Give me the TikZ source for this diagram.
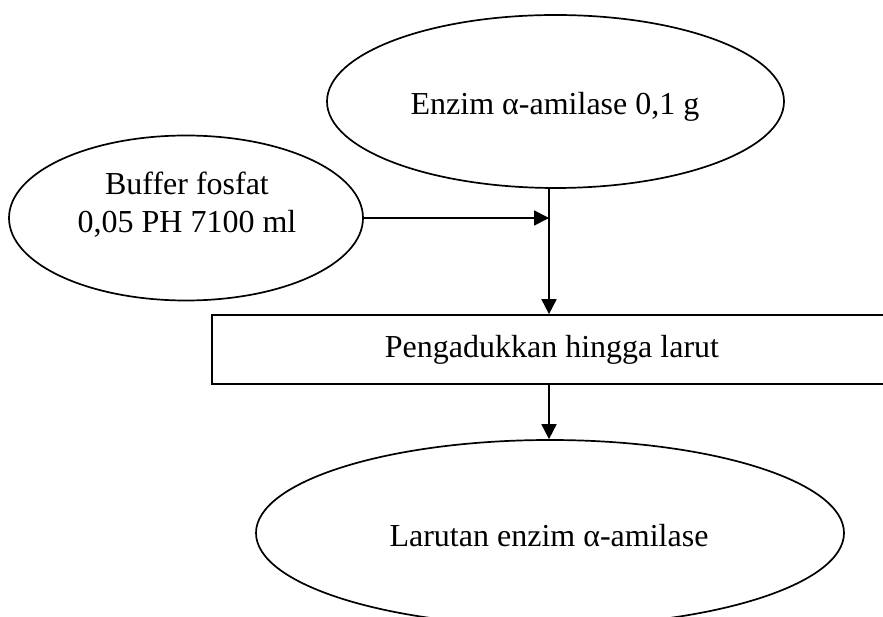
\documentclass[tikz,border=0pt]{standalone}
\usepackage{fontspec}
\setmainfont{Liberation Serif}
\usetikzlibrary{shapes.geometric,arrows.meta}
\begin{document}
\begin{tikzpicture}[x=1pt,y=-1pt,
  shp/.style={draw,line width=1.7pt,ellipse,inner sep=0pt},
  lbl/.style={font=\fontsize{32}{38}\selectfont,inner sep=0pt},
  boxst/.style={draw,line width=1.7pt,rectangle,inner sep=0pt,font=\fontsize{32}{38}\selectfont},
  arr/.style={line width=1.8pt,-{Triangle[length=15pt,width=15pt]}},
  ]
\useasboundingbox (0,0) rectangle (883,617);
\clip (0,0) rectangle (883,617);
\node[shp,minimum width=457pt,minimum height=173pt] (enz) at (555.5,101.5) {};
\node[lbl,anchor=base] (enzt) at (555,115) {Enzim α-amilase 0,1 g};
\node[shp,minimum width=354pt,minimum height=165pt] (buf) at (186,218) {};
\node[lbl,align=center] (buft) at (187,205) {Buffer fosfat\\0,05 PH 7100 ml};
\node[boxst,minimum width=680pt,minimum height=69pt] (box) at (552,349.5) {Pengadukkan hingga larut};
\node[shp,minimum width=588pt,minimum height=186pt] (res) at (550,533) {};
\node[lbl,anchor=base] (rest) at (549,546) {Larutan enzim α-amilase};
\coordinate (j) at (549,220);
\draw[arr] (buf.east) -- (buf.east -| j);
\draw[arr] (enz.south -| j) -- (box.north -| j);
\draw[arr] (box.south -| j) -- (res.north -| j);
\end{tikzpicture}
\end{document}
